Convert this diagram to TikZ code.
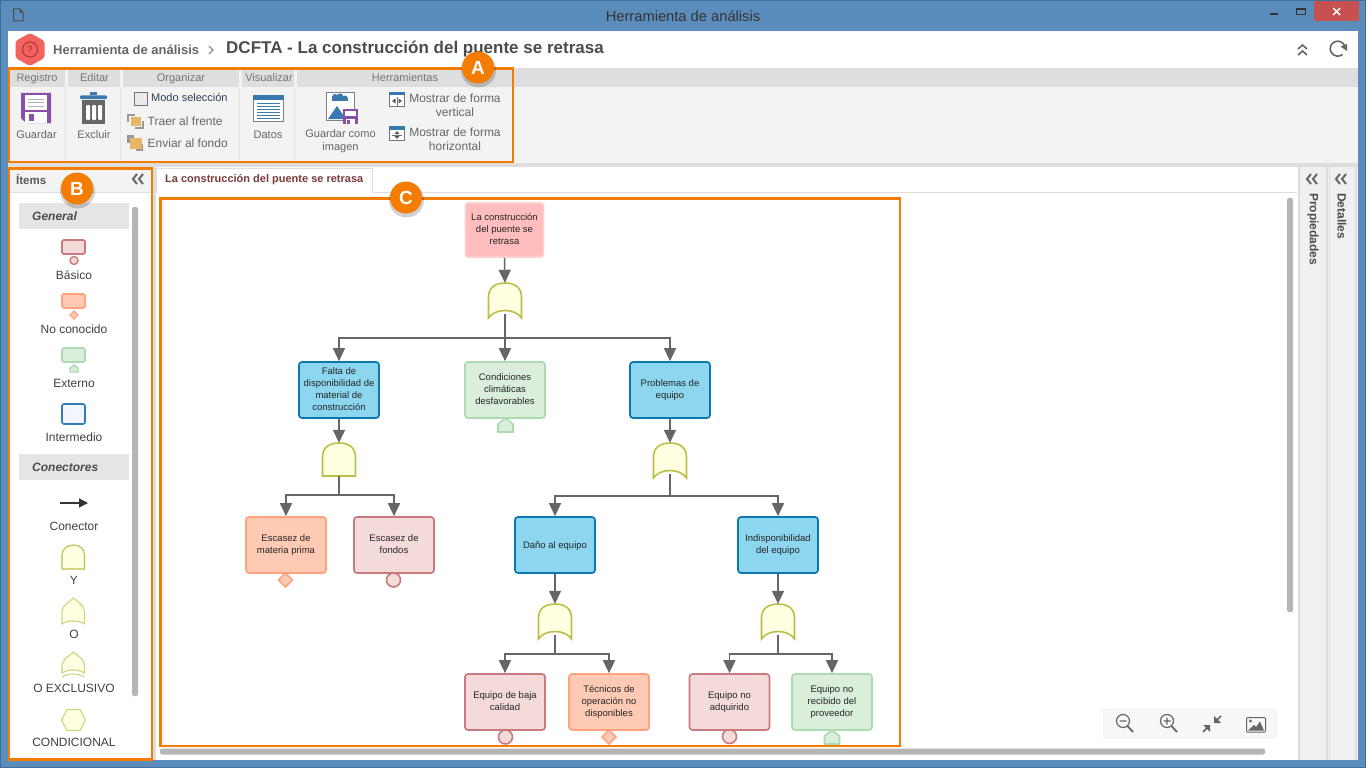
\documentclass[tikz,border=0pt]{standalone}
\usepackage{fontspec}
\setmainfont{Liberation Sans}
\usetikzlibrary{arrows.meta,shapes.geometric,calc}
\definecolor{winblue}{HTML}{5B8DBC}
\definecolor{winedge}{HTML}{3F6F9C}
\definecolor{orng}{HTML}{F47C00}
\definecolor{ribhead}{HTML}{DEDEDE}
\definecolor{ribbody}{HTML}{F3F3F3}
\definecolor{txtgray}{HTML}{666666}
\definecolor{conngray}{HTML}{666666}
\definecolor{scroll}{HTML}{B5B5B5}
\definecolor{purp}{HTML}{8A50A8}
\definecolor{iblue}{HTML}{3A78B0}
\definecolor{gatefill}{HTML}{FFFFE2}
\definecolor{gateline}{HTML}{BDBD4A}
\definecolor{basF}{HTML}{F5DADA}\definecolor{basD}{HTML}{C97A7E}
\definecolor{unkF}{HTML}{FFCAB4}\definecolor{unkD}{HTML}{FFA27E}
\definecolor{extF}{HTML}{DAEEDC}\definecolor{extD}{HTML}{AEDAB2}
\definecolor{intF}{HTML}{8CD7EF}\definecolor{intD}{HTML}{0B78B0}
\definecolor{topF}{HTML}{FFBDBD}\definecolor{topD}{HTML}{FFCFCF}
\definecolor{closeR}{HTML}{C75050}
\definecolor{logoF}{HTML}{F2625F}
\definecolor{logoD}{HTML}{B23A3A}
\definecolor{modoT}{HTML}{2F3F55}
\definecolor{orgO}{HTML}{E8B566}
\definecolor{sepG}{HTML}{DDDDDD}
\definecolor{intpF}{HTML}{F3F5FF}
\definecolor{intpD}{HTML}{2F7FB5}
\definecolor{tabL}{HTML}{E3DCDC}
\definecolor{tabT}{HTML}{7A3B3B}
\definecolor{sideG}{HTML}{F0F0F0}
\definecolor{barG}{HTML}{F7F7F7}
\tikzset{
  x=1pt,y=-1pt,
  lbl/.style={inner sep=0pt,text=txtgray,align=center,text height=8pt,text depth=2.5pt,yshift=-1.5pt,font=\fontsize{11}{12}\selectfont},
  tool/.style={inner sep=0pt,text=txtgray,anchor=west,text height=8.5pt,text depth=2.5pt,yshift=-1.5pt,font=\fontsize{12}{14}\selectfont},
  mostrar/.style={inner sep=0pt,text=txtgray,align=center,font=\fontsize{12}{14}\selectfont},
  head/.style={inner sep=0pt,text=txtgray!90,text height=8pt,text depth=2.5pt,yshift=-1.5pt,font=\fontsize{11}{12}\selectfont},
  pal/.style={inner sep=0pt,text=black!75,text height=8.5pt,text depth=2.5pt,yshift=-1pt,font=\fontsize{12}{14}\selectfont},
  palhead/.style={draw=black!10,fill=black!10,minimum width=109pt,minimum height=25pt,inner sep=0pt},
  fbox/.style={rounded corners=3pt,line width=1.7pt,minimum width=80pt,inner sep=0pt,align=center,text=black!85,
     execute at begin node={\rule{0pt}{9.5pt}},execute at end node={\rule[-2pt]{0pt}{0pt}},
     font=\fontsize{9.5}{12}\selectfont},
  basicbox/.style={fbox,draw=basD,fill=basF,minimum height=56pt},
  unkbox/.style={fbox,draw=unkD,fill=unkF,minimum height=56pt},
  extbox/.style={fbox,draw=extD,fill=extF,minimum height=56pt},
  intbox/.style={fbox,draw=intD,fill=intF,minimum height=56pt},
  topbox/.style={fbox,draw=topD,fill=topF,minimum width=78pt,minimum height=54pt},
  gatebox/.style={inner sep=0pt,minimum width=33pt,minimum height=31pt},
  conn/.style={draw=conngray,line width=1.5pt,-{Triangle[width=12pt,length=13pt,fill=conngray]}},
  gateshape/.style={draw=gateline,fill=gatefill,line width=1.6pt},
  marker/.style={line width=1.6pt},
  callout/.style={circle,fill=orng,text=white,minimum size=32pt,inner sep=0pt,font=\fontsize{19}{20}\selectfont\bfseries},
  orangebox/.style={draw=orng,line width=2.5pt},
}
\newcommand\curvedgate[3]{%
  \node[gatebox] (#1) at (#2,#3+15.5) {};
  \draw[gateshape] (#2-16.5,#3+35) -- (#2-16.5,#3+14) .. controls (#2-16.5,#3+4) and (#2-9,#3) .. (#2,#3)
    .. controls (#2+9,#3) and (#2+16.5,#3+4) .. (#2+16.5,#3+14) -- (#2+16.5,#3+35)
    .. controls (#2+10,#3+25) and (#2-10,#3+25) .. cycle;}
\newcommand\flatgate[3]{%
  \node[gatebox,minimum height=33pt] (#1) at (#2,#3+16.5) {};
  \draw[gateshape] (#2-16.5,#3+33) -- (#2-16.5,#3+14) .. controls (#2-16.5,#3+4) and (#2-9,#3) .. (#2,#3)
    .. controls (#2+9,#3) and (#2+16.5,#3+4) .. (#2+16.5,#3+14) -- (#2+16.5,#3+33) -- cycle;}
\newcommand\extmark[2]{%
  \draw[marker,draw=extD,fill=extF] (#1-7.5,#2+14) -- (#1-7.5,#2+6) -- (#1,#2) -- (#1+7.5,#2+6) -- (#1+7.5,#2+14) -- cycle;}
\newcommand\basmark[2]{\draw[marker,draw=basD,fill=basF] (#1,#2) circle[radius=7];}
\newcommand\unkmark[2]{\draw[marker,draw=unkD,fill=unkF] (#1-7,#2) -- (#1,#2-7) -- (#1+7,#2) -- (#1,#2+7) -- cycle;}
\newcommand\chev[2]{%
  \draw[black!60,line width=2pt] (#1-2,#2-5) -- (#1-6,#2) -- (#1-2,#2+5) (#1+4,#2-5) -- (#1,#2) -- (#1+4,#2+5);}
\begin{document}
\begin{tikzpicture}
\useasboundingbox (0,0) rectangle (1366,768);
\clip (0,0) rectangle (1366,768);
% window
\fill[winedge] (0,0) rectangle (1366,768);
\fill[winblue] (1,1) rectangle (1365,767);
\fill[white] (8,31) rectangle (1358,760);
\node[inner sep=0,text=black!80,font=\fontsize{14.7}{16}\selectfont] (wintitle) at (683,16) {Herramienta de análisis};
\draw[black!70,line width=1pt,fill=winblue] (13.5,9) -- (20,9) -- (23,12.5) -- (23,21) -- (13.5,21) -- cycle (20,9) -- (20,12.5) -- (23,12.5);
\fill[black!80] (1270,13) rectangle (1278,15);
\draw[black!80,line width=1pt,fill=winblue] (1296.5,8.5) rectangle (1305.5,14.5);
\fill[black!80] (1296,8) rectangle (1306,10);
\fill[closeR] (1314,1) rectangle (1359,21);
\draw[white,line width=1.4pt] (1333,8) -- (1340,15) (1340,8) -- (1333,15);
% header
\fill[logoF,rounded corners=2pt] (30,33) -- (44.5,41) -- (44.5,58) -- (30,66) -- (15.5,58) -- (15.5,41) -- cycle;
\draw[logoD,line width=1.1pt] (30,49.5) circle[radius=7.5];
\node[inner sep=0,text=logoD,font=\fontsize{9}{10}\selectfont\bfseries] (qm) at (30,49.5) {?};
\node[inner sep=0,anchor=west,text=txtgray,font=\fontsize{13}{14}\selectfont\bfseries] (crumb) at (53,50) {Herramienta de análisis};
\draw[black!45,line width=1.4pt] (209,46) -- (213,50) -- (209,54);
\node[inner sep=0,anchor=west,text=black!70,font=\fontsize{17}{19}\selectfont\bfseries] (title) at (226,49.5) {DCFTA - La construcción del puente se retrasa};
\draw[txtgray,line width=1.6pt] (1298,49) -- (1302.5,45) -- (1307,49) (1298,55) -- (1302.5,51) -- (1307,55);
\draw[txtgray,line width=1.6pt] (1344.5,45.5) arc[start angle=-25,end angle=-310,radius=7.5];
\fill[txtgray] (1340.5,46.5) -- (1347,44) -- (1347,51) -- cycle;
% ribbon
\fill[ribbody] (8,87) rectangle (1358,163);
\fill[ribhead] (8,68) rectangle (1358,87);
\fill[ribbody] (65,68) rectangle (68,87) (120,68) rectangle (123,87) (239,68) rectangle (242,87) (294,68) rectangle (297,87);
\draw[black!10,line width=0.7pt] (65.5,87) -- (65.5,163) (120.5,87) -- (120.5,163) (239.5,87) -- (239.5,163) (294.5,87) -- (294.5,163);
\fill[sepG] (8,163) rectangle (1358,167);
\node[head] (h1) at (37,77) {Registro};
\node[head] (h2) at (94.5,77) {Editar};
\node[head] (h3) at (181,77) {Organizar};
\node[head] (h4) at (269,77) {Visualizar};
\node[head] (h5) at (405,77) {Herramientas};
% save icon
\fill[purp] (21,93) -- (51,93) -- (51,123) -- (26,123) -- (21,118) -- cycle;
\fill[white] (25,95.5) rectangle (47,109.5);
\draw[black!30,line width=0.8pt] (28,99) -- (44,99) (28,102.5) -- (44,102.5) (28,106) -- (44,106);
\fill[white] (25,112) rectangle (47,123);
\fill[purp] (29,114) rectangle (34,121);
\node[lbl] (guardar) at (36.5,134) {Guardar};
% trash
\fill[iblue,rounded corners=1pt] (80,95.5) rectangle (107,99);
\fill[iblue] (90,92) rectangle (97,95.5);
\fill[txtgray] (82,100) rectangle (105,124);
\fill[white,rounded corners=1pt] (86,105) rectangle (90,120) (92,105) rectangle (96,120) (98,105) rectangle (102,120);
\node[lbl] (excluir) at (94,134) {Excluir};
% organizar
\draw[black!55,line width=0.9pt,fill=black!8] (134.5,92.5) rectangle (147,105);
\node[inner sep=0,anchor=west,text=modoT,text height=8pt,text depth=2.5pt,yshift=-1pt,font=\fontsize{11}{13}\selectfont] (modo) at (151,98) {Modo selección};
\draw[black!40,line width=2pt] (128,122) -- (128,114.5) -- (135,114.5) (135,128) -- (142.5,128) -- (142.5,121);
\fill[orgO] (130.5,117) rectangle (140.5,126);
\fill[black!40] (127,135) rectangle (134,143);
\fill[black!40] (136,144) rectangle (143,151);
\fill[orgO] (130,138) rectangle (142,149);
\node[tool] (traer) at (147.5,120.5) {Traer al frente};
\node[tool] (enviar) at (147.5,142.5) {Enviar al fondo};
% datos
\draw[black!50,line width=0.9pt,fill=white] (253.5,95.5) rectangle (283,121.5);
\fill[iblue] (253,95) rectangle (283.5,100);
\foreach \yy in {103,106,109,112,115,118} \draw[iblue,line width=0.8pt] (257,\yy) -- (280,\yy);
\node[lbl] (datos) at (268,134) {Datos};
% save as image
\draw[black!50,line width=0.9pt,fill=white] (326.5,92.5) rectangle (354.5,120.5);
\fill[iblue] (328,119) -- (337,106) -- (343,115) -- (343,119) -- cycle;
\fill[iblue] (335,97) circle[radius=3] (340,97) circle[radius=3.5] (345,98) circle[radius=2.5];
\fill[iblue] (332,98) rectangle (348,100.5);
\fill[purp] (343,109) rectangle (358,124);
\fill[white] (345,111) rectangle (356,116);
\fill[white] (346,119) rectangle (355,124);
\fill[purp] (347,120) rectangle (350,124);
\node[inner sep=0pt,text=txtgray,align=center,font=\fontsize{11}{12.5}\selectfont] (gci) at (340.5,141) {Guardar como\\imagen};
% mostrar
\draw[black!55,line width=0.9pt,fill=white] (389.5,92.5) rectangle (404,106.5);
\fill[iblue] (389,92) rectangle (404.5,95.5);
\draw[black!55,line width=0.7pt] (397,97) -- (397,106);
\fill[black!65] (395.5,98.5) -- (392,101) -- (395.5,103.5) -- cycle (398.5,98.5) -- (402,101) -- (398.5,103.5) -- cycle;
\node[mostrar] (mv) at (455,105) {Mostrar de forma\\vertical};
\draw[black!55,line width=0.9pt,fill=white] (389.5,126.5) rectangle (404.5,140.5);
\fill[iblue] (389,126) rectangle (405,130);
\draw[black!55,line width=0.7pt] (392,135) -- (402,135);
\fill[black!65] (394.5,134) -- (397,131) -- (399.5,134) -- cycle (394.5,136) -- (397,139) -- (399.5,136) -- cycle;
\node[mostrar] (mh) at (455,139) {Mostrar de forma\\horizontal};
% left panel
\fill[ribbody] (9,168) rectangle (152,192);
\draw[black!12] (9,192.5) -- (152,192.5);
\node[inner sep=0,anchor=west,text=black!65,font=\fontsize{11.5}{13}\selectfont\bfseries] (items) at (16,179) {Ítems};
\chev{139}{179}
\node[palhead] (pgen) at (73.5,215.5) {};
\node[inner sep=0,anchor=west,text=black!70,font=\fontsize{12}{14}\selectfont\bfseries\itshape] (pgent) at (32,216) {General};
\node[palhead] (pcon) at (73.5,466.5) {};
\node[inner sep=0,anchor=west,text=black!70,font=\fontsize{12}{14}\selectfont\bfseries\itshape] (pcont) at (32,467) {Conectores};
\fill[scroll,rounded corners=2pt] (132,207) rectangle (138,696);
\draw[basD,fill=basF,line width=1.6pt,rounded corners=1.5pt] (62,240) rectangle (85,254);
\draw[basD,fill=basF,line width=1.4pt] (74,260.5) circle[radius=4];
\node[pal] (p1) at (74,275) {Básico};
\draw[unkD,fill=unkF,line width=1.6pt,rounded corners=1.5pt] (62,294) rectangle (85,308);
\draw[unkD,fill=unkF,line width=1.4pt] (70,315) -- (74,311) -- (78,315) -- (74,319) -- cycle;
\node[pal] (p2) at (74,329) {No conocido};
\draw[extD,fill=extF,line width=1.6pt,rounded corners=1.5pt] (62,348) rectangle (85,362);
\draw[extD,fill=extF,line width=1.4pt] (70,372) -- (70,368) -- (74,365) -- (78,368) -- (78,372) -- cycle;
\node[pal] (p3) at (74,383) {Externo};
\draw[intpD,fill=intpF,line width=1.6pt,rounded corners=2pt] (62,404) rectangle (85,424);
\node[pal] (p4) at (74,437) {Intermedio};
\draw[black!80,line width=1.3pt,-{Triangle[width=9pt,length=9pt]}] (60,503) -- (88,503);
\node[pal] (p5) at (74,526) {Conector};
\draw[gateshape,line width=1.1pt] (62,569) -- (62,555) .. controls (62,549) and (67,545) .. (73.5,545) .. controls (80,545) and (84.5,549) .. (84.5,555) -- (84.5,569) -- cycle;
\node[pal] (p6) at (74,580) {Y};
\draw[gateshape,line width=1.1pt,draw=gateline!70] (62,624) -- (62,611) .. controls (63,605) and (69,602) .. (73.5,598) .. controls (78,602) and (84,605) .. (84.5,611) -- (84.5,624) .. controls (78,620) and (68,620) .. cycle;
\node[pal] (p7) at (74,634) {O};
\draw[gateshape,line width=1.1pt,draw=gateline!70] (62,673) -- (62,665) .. controls (63,659) and (69,656) .. (73.5,652) .. controls (78,656) and (84,659) .. (84.5,665) -- (84.5,673) .. controls (78,669) and (68,669) .. cycle;
\draw[gateline!70,line width=1.1pt] (62,677) .. controls (68,673) and (78,673) .. (84.5,677);
\node[pal] (p8) at (74,688) {O EXCLUSIVO};
\draw[gateshape,line width=1.1pt,draw=gateline!70] (61.5,720) -- (67,709.5) -- (80,709.5) -- (85.5,720) -- (80,730.5) -- (67,730.5) -- cycle;
\node[pal] (p9) at (74,742) {CONDICIONAL};
% tab + panels
\fill[sepG] (152,167) rectangle (156,760);
\draw[tabL,line width=1pt] (156,192.5) -- (1297,192.5);
\draw[tabL,line width=1pt,fill=white] (156,192.5) -- (156,168) -- (372.5,168) -- (372.5,192.5);
\node[inner sep=0,anchor=west,text=tabT,font=\fontsize{11}{12}\selectfont\bfseries] (tab) at (165,179.5) {La construcción del puente se retrasa};
\fill[sideG] (1298,167) rectangle (1358,760);
\draw[sepG,line width=1.2pt] (1299,167) -- (1299,760) (1327,167) -- (1327,760) (1329.5,167) -- (1329.5,760) (1356,167) -- (1356,760);
\chev{1313}{179}
\chev{1342}{179}
\node[inner sep=0,anchor=west,rotate=-90,text=black!70,font=\fontsize{12}{13}\selectfont\bfseries] (prop) at (1313,193) {Propiedades};
\node[inner sep=0,anchor=west,rotate=-90,text=black!70,font=\fontsize{12}{13}\selectfont\bfseries] (det) at (1342,193) {Detalles};
\fill[scroll,rounded corners=2pt] (1287,198) rectangle (1293,612);
\fill[scroll,rounded corners=2pt] (160,748.5) rectangle (1265,754.5);
% zoom bar
\draw[black!12,fill=barG,rounded corners=2pt] (1103.5,709.5) rectangle (1276.5,738);
\draw[txtgray,line width=1.2pt] (1123,721) circle[radius=6.5] (1119.5,721) -- (1126.5,721);
\draw[txtgray,line width=1.8pt] (1127.5,726) -- (1133,732);
\draw[txtgray,line width=1.2pt] (1167,721) circle[radius=6.5] (1163.5,721) -- (1170.5,721) (1167,717.5) -- (1167,724.5);
\draw[txtgray,line width=1.8pt] (1171.5,726) -- (1177,732);
\draw[txtgray,line width=1.6pt] (1203,732) -- (1208,727) (1221,716) -- (1216,721);
\fill[txtgray] (1203,725) -- (1210,725) -- (1210,732) -- cycle (1214,716) -- (1214,723) -- (1221,723) -- cycle;
\draw[txtgray,line width=1pt,rounded corners=1pt] (1246.5,717.5) rectangle (1265.5,732);
\fill[txtgray] (1248,730.5) -- (1254,725) -- (1256,727) -- (1260,721.5) -- (1264,730.5) -- cycle (1250.5,721) circle[radius=1.7];
% markers
\extmark{505.5}{418}
\unkmark{285.5}{580}
\basmark{393.5}{580}
\basmark{505.5}{737}
\unkmark{609}{737}
\basmark{729.5}{736.5}
\extmark{832}{730}
% diagram nodes
\node[topbox] (top) at (504.5,230) {La construcción\\del puente se\\retrasa};
\node[intbox] (falta) at (339,390) {Falta de\\disponibilidad de\\material de\\construcción};
\node[extbox] (cond) at (505,390) {Condiciones\\climáticas\\desfavorables};
\node[intbox] (prob) at (670,390) {Problemas de\\equipo};
\node[unkbox] (mat) at (286,545) {Escasez de\\materia prima};
\node[basicbox] (fon) at (394,545) {Escasez de\\fondos};
\node[intbox] (dano) at (555,545) {Daño al equipo};
\node[intbox] (ind) at (778,545) {Indisponibilidad\\del equipo};
\node[basicbox] (baja) at (505,702) {Equipo de baja\\calidad};
\node[unkbox] (tec) at (609,702) {Técnicos de\\operación no\\disponibles};
\node[basicbox] (adq) at (729.5,702) {Equipo no\\adquirido};
\node[extbox] (rec) at (832,702) {Equipo no\\recibido del\\proveedor};
% gates
\curvedgate{ga}{505}{283}
\flatgate{gb}{339}{443}
\curvedgate{gc}{670}{443}
\curvedgate{gd}{555}{604}
\curvedgate{ge}{778}{604}
% junctions
\coordinate (ja) at (505,338);
\coordinate (jb) at (339,495);
\coordinate (jc) at (670,496);
\coordinate (jd) at (555,654);
\coordinate (je) at (778,654);
% connectors
\draw[conn] (top.south) -- (ga.north);
\draw[conn] (ga.south) -- (cond.north);
\draw[conn] (ja) -| (falta.north);
\draw[conn] (ja) -| (prob.north);
\draw[conn] (falta.south) -- (gb.north);
\draw[conn] (prob.south) -- (gc.north);
\draw[conn] (gb.south) -- (jb) -| (mat.north);
\draw[conn] (jb) -| (fon.north);
\draw[conn] (gc.south) -- (jc) -| (dano.north);
\draw[conn] (jc) -| (ind.north);
\draw[conn] (dano.south) -- (gd.north);
\draw[conn] (ind.south) -- (ge.north);
\draw[conn] (gd.south) -- (jd) -| (baja.north);
\draw[conn] (jd) -| (tec.north);
\draw[conn] (ge.south) -- (je) -| (adq.north);
\draw[conn] (je) -| (rec.north);
% orange frames and callouts
\draw[orangebox] (9,68.5) rectangle (513,162);
\draw[orangebox] (9,168.5) rectangle (152,759.5);
\draw[orangebox] (160.5,198.5) rectangle (900,746);
\foreach \cx/\cy in {478/68,77/189,406/198} \fill[black,opacity=0.18] (\cx+0.5,\cy+2) circle[radius=17.5];
\node[callout] (ca) at (478,67.5) {A};
\node[callout] (cb) at (77,188.5) {B};
\node[callout] (cc) at (406,197.5) {C};
\end{tikzpicture}
\end{document}
